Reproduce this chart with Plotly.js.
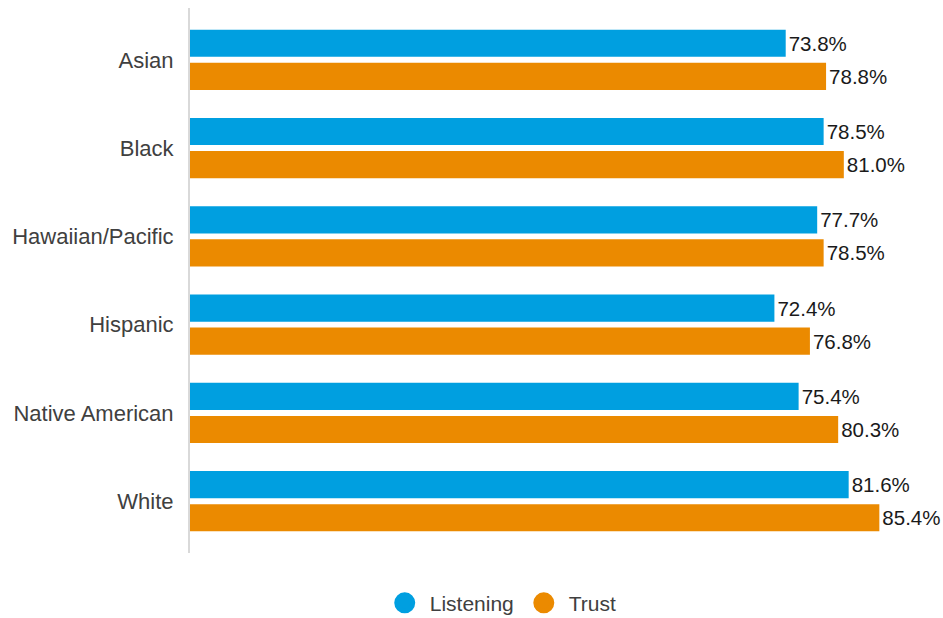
<!DOCTYPE html>
<html>
<head>
<meta charset="utf-8">
<script src="https://cdn.plot.ly/plotly-3.0.1.min.js"></script>
<style>html,body{margin:0;padding:0;background:#fff;}#chart{width:943px;height:618px;}</style>
</head>
<body>
<div id="chart"></div>
<script>
var categories = ["Asian", "Black", "Hawaiian/Pacific", "Hispanic", "Native American", "White"];
var listening = [73.8, 78.5, 77.7, 72.4, 75.4, 81.6];
var trust = [78.8, 81.0, 78.5, 76.8, 80.3, 85.4];
var seriesNames = ["Listening", "Trust"];
var colors = ["#009FE0", "#EB8A00"];

function fmt(v){ return v.toFixed(1) + "%"; }

function barTrace(vals, name, color){
  return {
    type: "bar", orientation: "h",
    x: vals, y: categories, name: name,
    marker: {color: color},
    text: vals.map(fmt), textposition: "outside",
    textfont: {family: "Liberation Sans, Arial, sans-serif", size: 20.5, color: "#1a1a1a"},
    cliponaxis: false, constraintext: "none",
    showlegend: false, hoverinfo: "skip"
  };
}
function legendTrace(name, color){
  return {
    type: "scatter", mode: "markers", x: [null], y: [null], name: name,
    marker: {color: color, size: 22, symbol: "circle", line: {color: color, width: 6}},
    showlegend: true, hoverinfo: "skip"
  };
}

var data = [
  barTrace(listening, seriesNames[0], colors[0]),
  barTrace(trust, seriesNames[1], colors[1]),
  legendTrace(seriesNames[0], colors[0]),
  legendTrace(seriesNames[1], colors[1])
];

var layout = {
  width: 943, height: 618,
  margin: {l: 190, r: 12, t: 8, b: 65, autoexpand: false},
  paper_bgcolor: "#ffffff", plot_bgcolor: "#ffffff",
  barmode: "group", bargap: 0.25, bargroupgap: 0.18,
  font: {family: "Liberation Sans, Arial, sans-serif", color: "#404040"},
  xaxis: {range: [0, 91.8], showgrid: false, zeroline: false, showticklabels: false, showline: false, ticks: "", fixedrange: true},
  yaxis: {
    type: "category", categoryorder: "array", categoryarray: categories,
    range: [5.587, -0.587], showgrid: false, zeroline: false,
    showline: true, linecolor: "#d9d9d9", linewidth: 2,
    ticks: "", ticklabelstandoff: 10, automargin: false,
    tickfont: {size: 22, color: "#404040"}, fixedrange: true
  },
  showlegend: true,
  legend: {
    orientation: "h", xref: "container", x: 0.531, xanchor: "center",
    yref: "container", y: 0.024, yanchor: "middle",
    font: {size: 21, color: "#404040"}, itemsizing: "trace", traceorder: "normal",
    itemwidth: 40
  }
};

Plotly.newPlot("chart", data, layout, {displayModeBar: false, staticPlot: true});
</script>
</body>
</html>
